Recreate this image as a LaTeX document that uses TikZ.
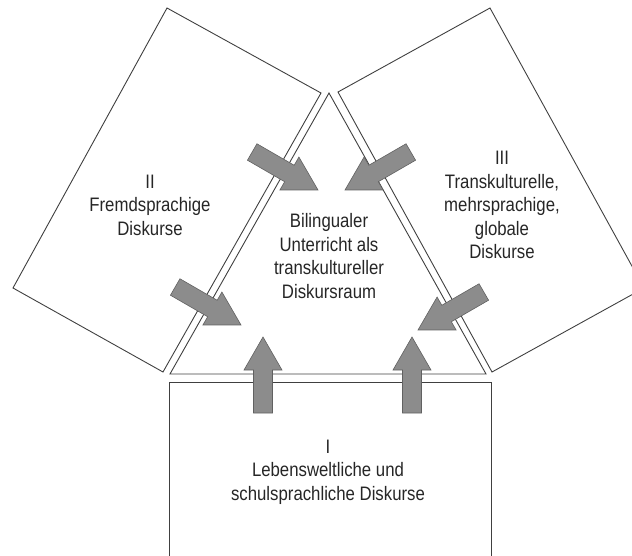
\documentclass[tikz,border=0pt]{standalone}
\usepackage{fontspec}
\setmainfont{Liberation Sans}[FakeStretch=0.86]
\usepackage{tikz}

\newcommand{\diskfont}{\fontsize{19.5}{23.5}\selectfont}
\newcommand{\diskpfeil}[3]{%
  \begin{scope}[shift={(#1,#2)},rotate=#3]
    \filldraw[pfeil] (0,0)--(-33,19)--(-33,9.5)--(-76,9.5)--(-76,-9.5)--(-33,-9.5)--(-33,-19)--cycle;
  \end{scope}}

\tikzset{
  linie/.style={draw=black!75,line width=0.9pt,line join=miter},
  pfeil/.style={fill=black!45,draw=black!62,line width=0.6pt},
  diskurs/.style={align=center,font=\diskfont,text=black!85}
}

\begin{document}
\begin{tikzpicture}[x=1pt,y=1pt]
  \useasboundingbox (0,0) rectangle (632,555);

  \coordinate (spitze) at (329,462);
  \coordinate (links) at (170,181);
  \coordinate (rechts) at (486,181);
  \draw[linie] (spitze)--(links)--(rechts)--cycle;

  \draw[linie] (169,-3)--(169,173)--(491,173)--(491,-3);
  \draw[linie] (321,462)--(167,547)--(13,267)--(163,183)--cycle;
  \draw[linie] (338,463)--(490,547)--(644,267)--(492,183)--cycle;

  \diskpfeil{318}{365}{-30}
  \diskpfeil{241}{230}{-30}
  \diskpfeil{345}{365}{-150}
  \diskpfeil{418}{225}{-150}
  \diskpfeil{263}{218}{90}
  \diskpfeil{412}{218}{90}

  \node[diskurs] (raum) at (329,299) {Bilingualer\\Unterricht als\\transkultureller\\Diskursraum};
  \node[diskurs] (fremd) at (150,350) {II\\Fremdsprachige\\Diskurse};
  \node[diskurs] (trans) at (502,350) {III\\Transkulturelle,\\mehrsprachige,\\globale\\Diskurse};
  \node[diskurs] (lebenswelt) at (328,83) {I\\Lebensweltliche und\\schulsprachliche Diskurse};
\end{tikzpicture}
\end{document}
